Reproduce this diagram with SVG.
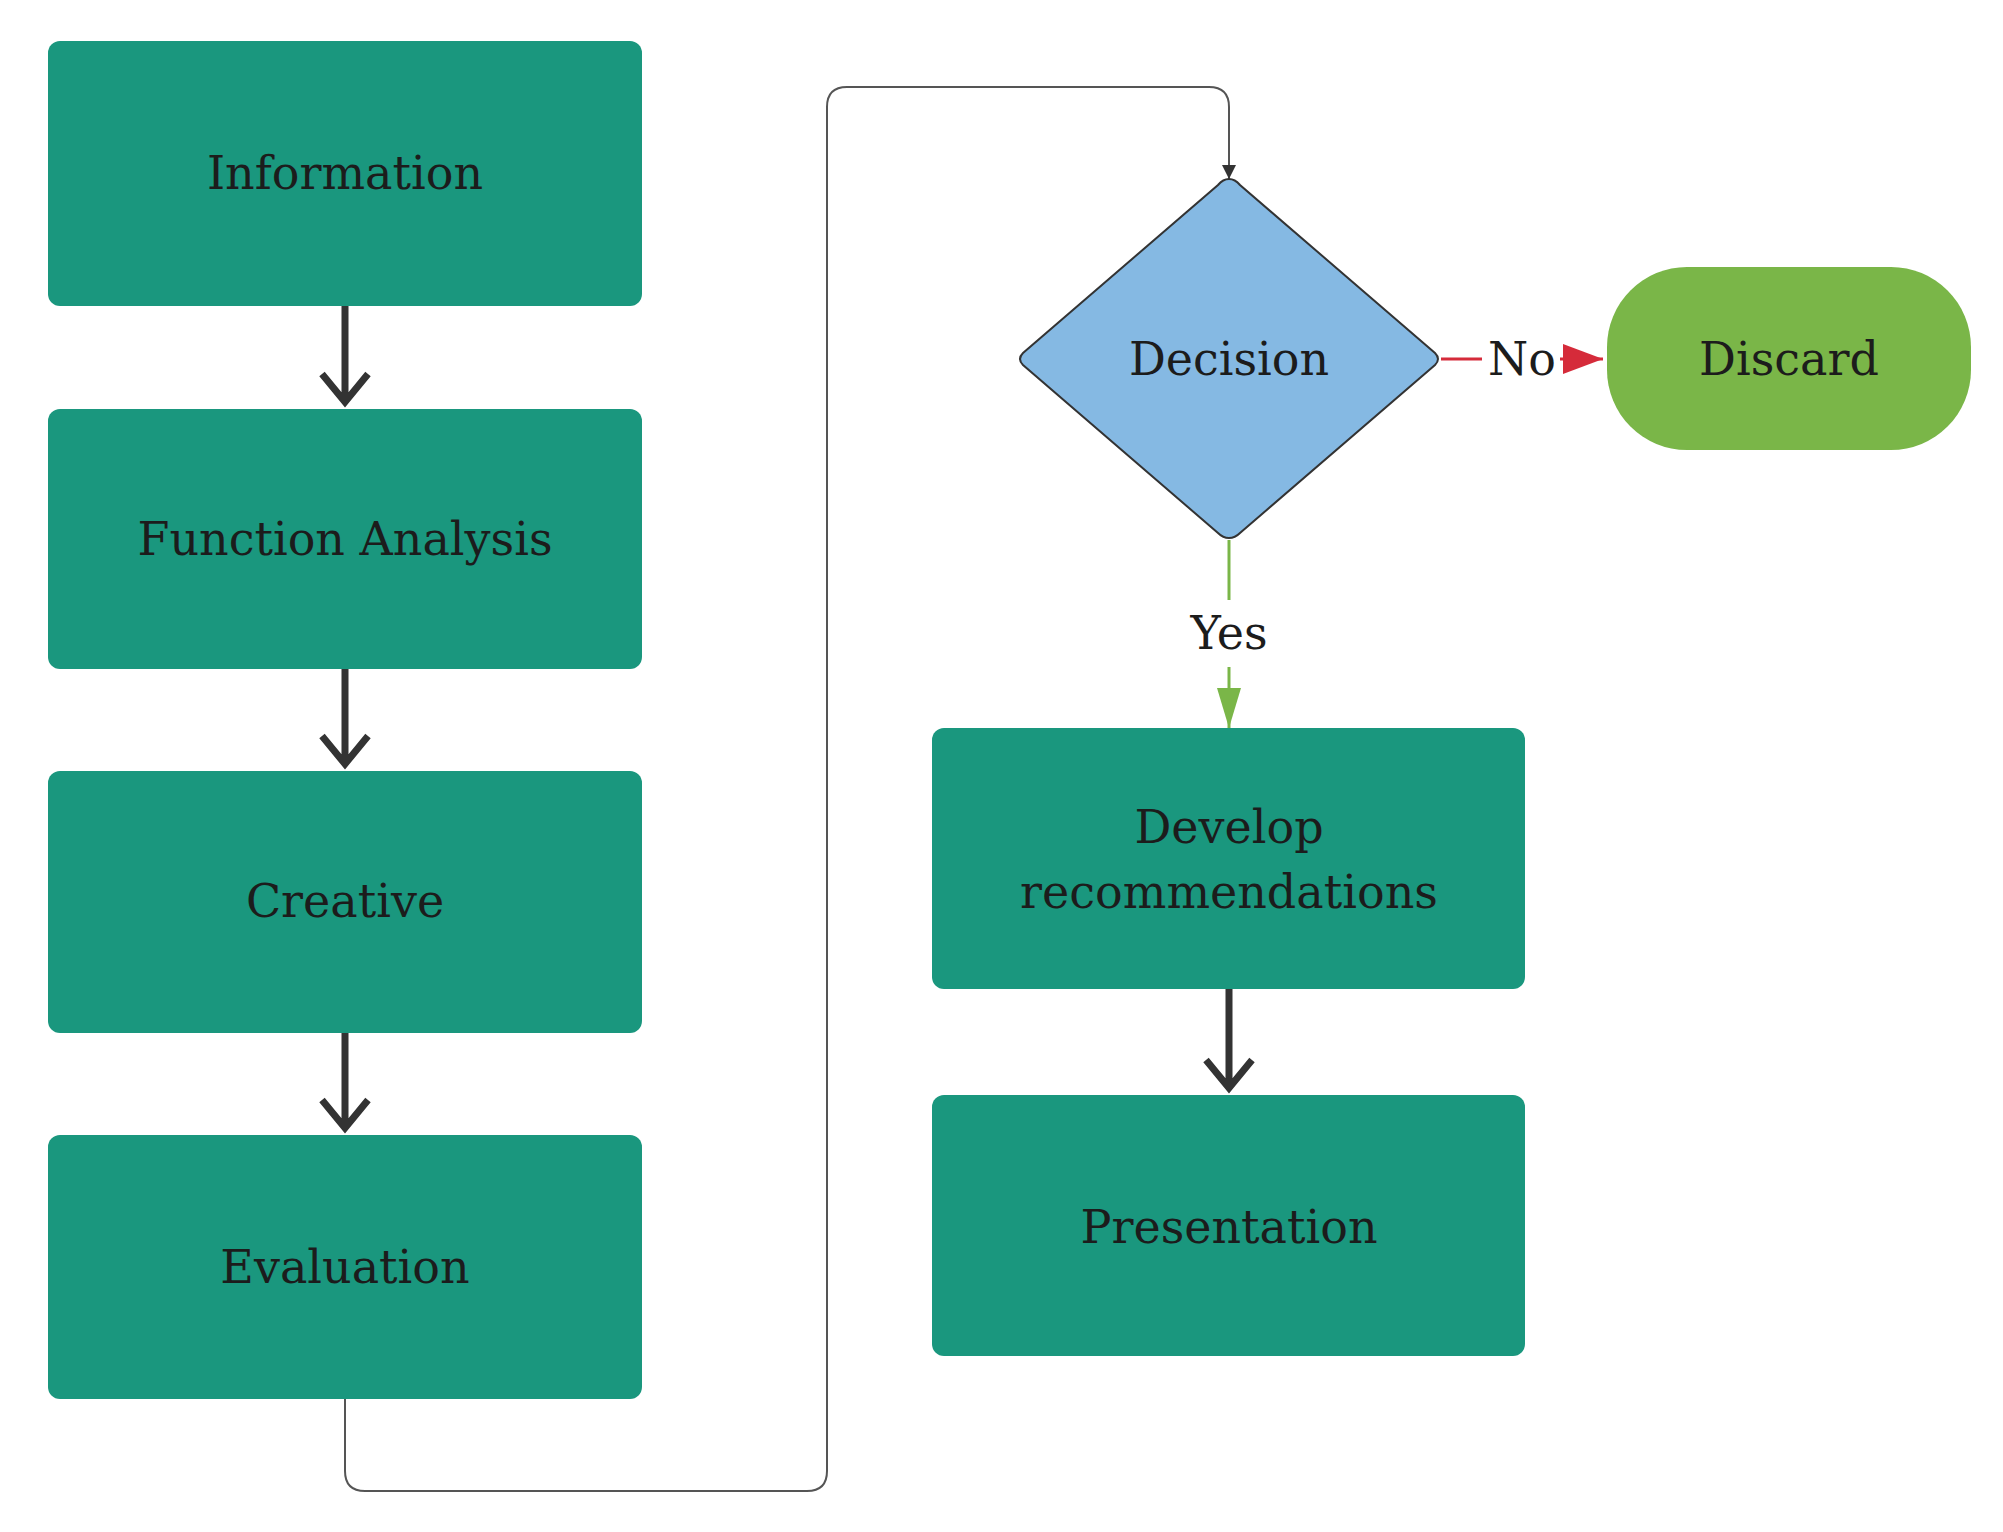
<svg xmlns="http://www.w3.org/2000/svg" width="2003" height="1532" viewBox="0 0 2003 1532">
<style>
.box{fill:#1a977e}
.t{font-family:"DejaVu Serif","Liberation Serif",serif;font-size:46px;fill:#1c1c1c;text-anchor:middle;dominant-baseline:central}
.thick{stroke:#333;stroke-width:7;fill:none}
</style>
<defs>
<marker id="chev" viewBox="0 0 20 14" refX="10" refY="12" markerWidth="20" markerHeight="14" markerUnits="userSpaceOnUse" orient="auto-start-reverse"><path d="M0,0 L10,12 L20,0" fill="none" stroke="#333" stroke-width="0"/></marker>
<marker id="grey" viewBox="0 0 10 10" refX="10" refY="5" markerWidth="14" markerHeight="14" markerUnits="userSpaceOnUse" orient="auto"><path d="M0,0 L10,5 L0,10 Z" fill="#333"/></marker>
<marker id="red" viewBox="0 0 10 10" refX="10" refY="5" markerWidth="40" markerHeight="30" markerUnits="userSpaceOnUse" orient="auto" preserveAspectRatio="none"><path d="M0,0 L10,5 L0,10 Z" fill="#d52b3a"/></marker>
<marker id="green" viewBox="0 0 10 10" refX="10" refY="5" markerWidth="40" markerHeight="24" markerUnits="userSpaceOnUse" orient="auto" preserveAspectRatio="none"><path d="M0,0 L10,5 L0,10 Z" fill="#7ab648"/></marker>
</defs>
<g id="connectors">
<path class="thick" d="M345,306 V400 M322,374 L345,402 L368,374"/>
<path class="thick" d="M345,669 V762 M322,736 L345,764 L368,736"/>
<path class="thick" d="M345,1033 V1126 M322,1100 L345,1128 L368,1100"/>
<path class="thick" d="M1229,989 V1086 M1206,1060 L1229,1088 L1252,1060"/>
<path d="M345,1399 V1471 Q345,1491 365,1491 H807 Q827,1491 827,1471 V107 Q827,87 847,87 H1209 Q1229,87 1229,107 V179" fill="none" stroke="#555" stroke-width="2" marker-end="url(#grey)"/>
<path d="M1441,359 H1482" stroke="#d52b3a" stroke-width="3" fill="none"/>
<path d="M1560,359 H1603" stroke="#d52b3a" stroke-width="3" fill="none" marker-end="url(#red)"/>
<text class="t" x="1522" y="359">No</text>
<path d="M1229,540 V600" stroke="#7ab648" stroke-width="3" fill="none"/>
<path d="M1229,667 V728" stroke="#7ab648" stroke-width="3" fill="none" marker-end="url(#green)"/>
<text class="t" x="1229" y="633">Yes</text>
</g>
<g id="information"><rect class="box" x="48" y="41" width="594" height="265" rx="12"/><text class="t" x="345" y="173">Information</text></g>
<g id="function-analysis"><rect class="box" x="48" y="409" width="594" height="260" rx="12"/><text class="t" x="345" y="539">Function Analysis</text></g>
<g id="creative"><rect class="box" x="48" y="771" width="594" height="262" rx="12"/><text class="t" x="345" y="901">Creative</text></g>
<g id="evaluation"><rect class="box" x="48" y="1135" width="594" height="264" rx="12"/><text class="t" x="345" y="1267">Evaluation</text></g>
<g id="decision"><path d="M1229,179 Q1235,179 1240,185 L1435,353 Q1441,359 1435,365 L1240,533 Q1235,538 1229,538 Q1223,538 1218,533 L1023,365 Q1017,359 1023,353 L1218,185 Q1223,179 1229,179 Z" fill="#85b9e3" stroke="#333" stroke-width="2"/><text class="t" x="1229" y="359">Decision</text></g>
<g id="discard"><rect x="1607" y="267" width="364" height="183" rx="80" fill="#7ab648"/><text class="t" x="1789" y="359">Discard</text></g>
<g id="develop"><rect class="box" x="932" y="728" width="593" height="261" rx="12"/><text class="t" x="1229" y="827">Develop</text><text class="t" x="1229" y="892">recommendations</text></g>
<g id="presentation"><rect class="box" x="932" y="1095" width="593" height="261" rx="12"/><text class="t" x="1229" y="1227">Presentation</text></g>
</svg>
